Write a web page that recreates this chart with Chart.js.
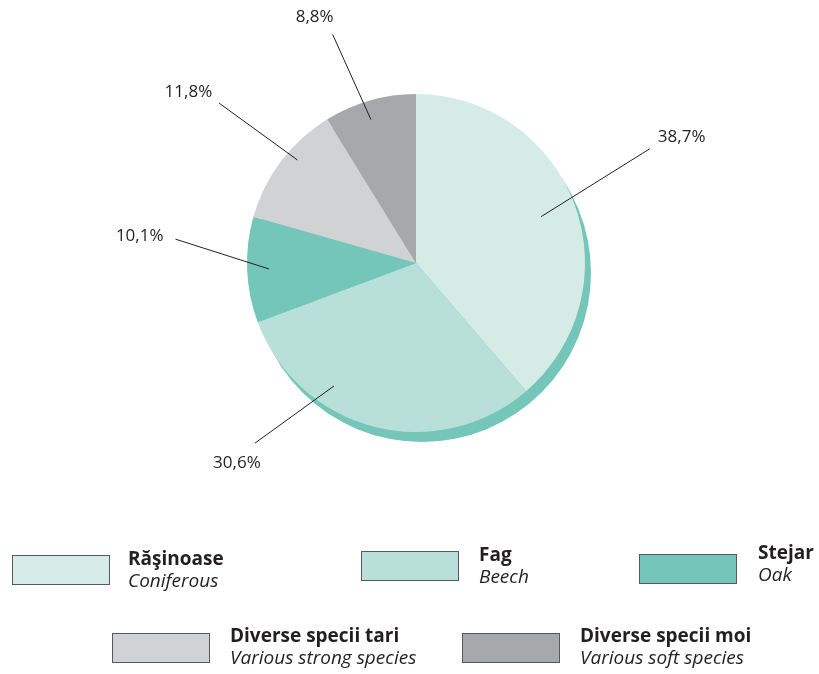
<!DOCTYPE html>
<html>
<head>
<meta charset="utf-8">
<script src="https://cdn.jsdelivr.net/npm/chart.js@4"></script>
<style>
  html, body { margin: 0; padding: 0; background: #fff; }
  #wrap { position: relative; width: 819px; height: 674px; font-family: "Open Sans", sans-serif; color: #231f20; }
  #pie { position: absolute; left: 0; top: 0; }
  .leg-box { position: absolute; width: 96px; height: 28px; border: 1px solid #58595b; }
  .leg-text { position: absolute; line-height: 22px; font-size: 19px; white-space: nowrap; }
  .leg-text b { display: block; font-weight: 700; }
  .leg-text i { display: block; font-style: italic; }
</style>
</head>
<body>
<div id="wrap">
  <canvas id="pie" width="819" height="674"></canvas>
  <div id="legend"></div>
</div>
<script>
const names = ['Răşinoase', 'Fag', 'Stejar', 'Diverse specii tari', 'Diverse specii moi'];
const namesEn = ['Coniferous', 'Beech', 'Oak', 'Various strong species', 'Various soft species'];
const shares = [38.7, 30.6, 10.1, 11.8, 8.8];
const shareLabels = ['38,7%', '30,6%', '10,1%', '11,8%', '8,8%'];
const colors = ['#d5ece6', '#b8e0d8', '#74c6b8', '#d1d2d4', '#a7a8ac'];
const shadowColor = '#74c6b8';

// leader line layout: angle offsets (deg) from slice middle, radius factors, text offset
const leaders = [
  { di: 0,    ri: 0.79, dOut: -5.7, ro: 1.54, tx: 8,   ty: -12, align: 'left' },
  { di: 19.3, ri: 0.875, dOut: 27.4, ro: 1.43, tx: -18, ty: 20,  align: 'center' },
  { di: 0,    ri: 0.87, dOut: 8,    ro: 1.43, tx: -12, ty: -3,  align: 'right' },
  { di: 3.9,  ri: 0.93, dOut: 2,    ro: 1.5,  tx: -7,  ty: -11, align: 'right' },
  { di: -1.6, ri: 0.89, dOut: -4.2, ro: 1.44, tx: -18, ty: -17, align: 'center' }
];

// legend placement
const legendPos = [
  { bx: 12,  by: 555, tx: 128, ty: 547 },
  { bx: 361, by: 551, tx: 479, ty: 543 },
  { bx: 639, by: 554, tx: 758, ty: 541 },
  { bx: 112, by: 633, tx: 230, ty: 624 },
  { bx: 462, by: 633, tx: 580, ty: 624 }
];

const shadowPlugin = {
  id: 'pieShadow',
  beforeDatasetsDraw(chart) {
    const arc = chart.getDatasetMeta(0).data[0];
    if (!arc) return;
    const ctx = chart.ctx;
    ctx.save();
    ctx.fillStyle = shadowColor;
    ctx.beginPath();
    ctx.arc(arc.x + 6, arc.y + 10, arc.outerRadius, 0, Math.PI * 2);
    ctx.fill();
    ctx.restore();
  }
};

const leaderPlugin = {
  id: 'leaders',
  afterDatasetsDraw(chart) {
    const ctx = chart.ctx;
    const meta = chart.getDatasetMeta(0);
    ctx.save();
    ctx.strokeStyle = '#231f20';
    ctx.lineWidth = 1;
    ctx.fillStyle = '#231f20';
    ctx.font = '17px "Open Sans", sans-serif';
    ctx.textBaseline = 'middle';
    meta.data.forEach((arc, i) => {
      const L = leaders[i];
      const mid = (arc.startAngle + arc.endAngle) / 2;
      const a1 = mid + L.di * Math.PI / 180;
      const a2 = mid + L.dOut * Math.PI / 180;
      const r = arc.outerRadius;
      const x1 = arc.x + Math.cos(a1) * r * L.ri;
      const y1 = arc.y + Math.sin(a1) * r * L.ri;
      const x2 = arc.x + Math.cos(a2) * r * L.ro;
      const y2 = arc.y + Math.sin(a2) * r * L.ro;
      ctx.beginPath();
      ctx.moveTo(x1, y1);
      ctx.lineTo(x2, y2);
      ctx.stroke();
      ctx.textAlign = L.align;
      ctx.fillText(shareLabels[i], x2 + L.tx, y2 + L.ty);
    });
    ctx.restore();
  }
};

new Chart(document.getElementById('pie'), {
  type: 'pie',
  data: {
    labels: names,
    datasets: [{
      data: shares,
      backgroundColor: colors,
      borderWidth: 0
    }]
  },
  options: {
    responsive: false,
    animation: false,
    layout: { padding: { left: 247, right: 234, top: 94, bottom: 242 } },
    plugins: {
      legend: { display: false },
      tooltip: { enabled: false }
    }
  },
  plugins: [shadowPlugin, leaderPlugin]
});

let html = '';
names.forEach((n, i) => {
  const p = legendPos[i];
  html += '<div class="leg-box" style="left:' + p.bx + 'px;top:' + p.by + 'px;background:' + colors[i] + '"></div>';
  html += '<div class="leg-text" style="left:' + p.tx + 'px;top:' + p.ty + 'px"><b>' + n + '</b><i>' + namesEn[i] + '</i></div>';
});
document.getElementById('legend').innerHTML = html;
</script>
</body>
</html>
